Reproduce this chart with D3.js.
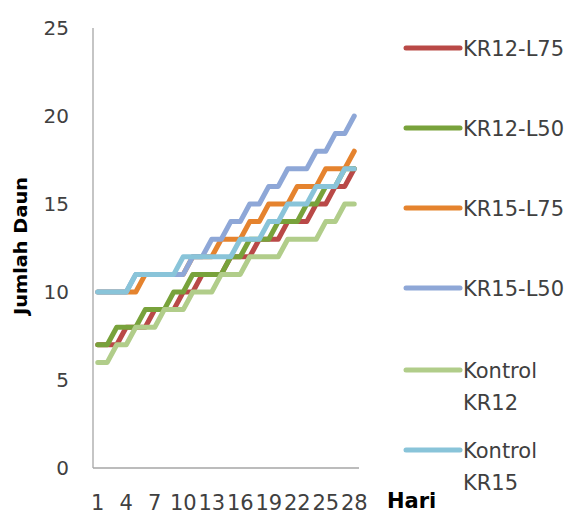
<!DOCTYPE html>
<html><head><meta charset="utf-8">
<script src="https://cdn.jsdelivr.net/npm/d3@7"></script>
<style>body{margin:0;background:#fff}svg{display:block}</style>
</head><body>
<script>
const days = d3.range(1, 29);
const xTickLabels = [1,4,7,10,13,16,19,22,25,28];
const yTicks = [0,5,10,15,20,25];
const seriesNames = ["KR12-L75","KR12-L50","KR15-L75","KR15-L50","Kontrol KR12","Kontrol KR15"];
const seriesColors = ["#B94A47","#78A23B","#E5832F","#8EA7D7","#B1CD8A","#89C4D9"];
const kr12L75 = [7,7,7,8,8,8,9,9,9,10,10,11,11,11,12,12,12,13,13,13,14,14,14,15,15,16,16,17];
const kr12L50 = [7,7,8,8,8,9,9,9,10,10,11,11,11,11,12,12,13,13,13,14,14,14,15,15,16,16,17,17];
const kr15L75 = [10,10,10,10,10,11,11,11,11,11,12,12,12,13,13,13,14,14,15,15,15,16,16,16,17,17,17,18];
const kr15L50 = [10,10,10,10,11,11,11,11,11,11,12,12,13,13,14,14,15,15,16,16,17,17,17,18,18,19,19,20];
const kontrolKR12 = [6,6,7,7,8,8,8,9,9,9,10,10,10,11,11,11,12,12,12,12,13,13,13,13,14,14,15,15];
const kontrolKR15 = [10,10,10,10,11,11,11,11,11,12,12,12,12,12,12,13,13,13,14,14,15,15,15,16,16,16,17,17];
const seriesValues = [kr12L75, kr12L50, kr15L75, kr15L50, kontrolKR12, kontrolKR15];

const W = 570, H = 515;
const svg = d3.select("body").append("svg").attr("width", W).attr("height", H);
const defs = svg.append("defs");
defs.append("filter").attr("id","soft").attr("filterUnits","userSpaceOnUse")
  .attr("x",0).attr("y",0).attr("width",W).attr("height",H)
  .append("feGaussianBlur").attr("stdDeviation",0.45);

const x = d3.scalePoint().domain(days).range([93, 359]).padding(0.5);
const y = d3.scaleLinear().domain([0, 25]).range([468, 28]);
const font = "'DejaVu Sans', sans-serif";

// axes lines
svg.append("line").attr("x1",93).attr("x2",93).attr("y1",y(25)).attr("y2",y(0)).attr("stroke","#A6A6A6").attr("stroke-width",1.3);
svg.append("line").attr("x1",93).attr("x2",359).attr("y1",y(0)).attr("y2",y(0)).attr("stroke","#A6A6A6").attr("stroke-width",1.3);

// y tick labels
svg.append("g").selectAll("text").data(yTicks).join("text")
  .attr("x", 69).attr("y", d => y(d)).attr("dy","0.36em")
  .attr("text-anchor","end").attr("font-family",font).attr("font-size",20).attr("fill","#404040")
  .text(d => d);

// x tick labels
svg.append("g").selectAll("text").data(xTickLabels).join("text")
  .attr("x", d => x(d)).attr("y", 510)
  .attr("text-anchor","middle").attr("font-family",font).attr("font-size",21).attr("fill","#404040")
  .text(d => d);

// axis titles
svg.append("text").attr("transform","translate(27,246) rotate(-90)")
  .attr("text-anchor","middle").attr("font-family",font).attr("font-weight","bold")
  .attr("font-size",17).attr("fill","#000")
  .attr("textLength",138).attr("lengthAdjust","spacingAndGlyphs").text("Jumlah Daun");
svg.append("text").attr("x",387).attr("y",508).attr("font-family",font).attr("font-weight","bold")
  .attr("font-size",21).attr("fill","#000").text("Hari");

// series lines
const line = d3.line().x((d,i) => x(days[i])).y(d => y(d));
const gl = svg.append("g").attr("filter","url(#soft)");
seriesValues.forEach((vals, k) => {
  gl.append("path").datum(vals).attr("d", line).attr("fill","none")
    .attr("stroke", seriesColors[k]).attr("stroke-width",5)
    .attr("stroke-linejoin","round").attr("stroke-linecap","round");
});

// legend
const legendY = [48,128,208,288,370,450];
const lg = svg.append("g");
seriesNames.forEach((name, k) => {
  const ly = legendY[k];
  lg.append("line").attr("x1",406).attr("x2",460).attr("y1",ly).attr("y2",ly)
    .attr("stroke",seriesColors[k]).attr("stroke-width",5).attr("stroke-linecap","round").attr("filter","url(#soft)");
  const parts = name.startsWith("Kontrol") ? name.split(" ") : [name];
  parts.forEach((p, j) => {
    lg.append("text").attr("x",463).attr("y", ly + j*32).attr("dy","0.36em")
      .attr("font-family",font).attr("font-size",21).attr("fill","#404040").text(p);
  });
});
</script>
</body></html>
